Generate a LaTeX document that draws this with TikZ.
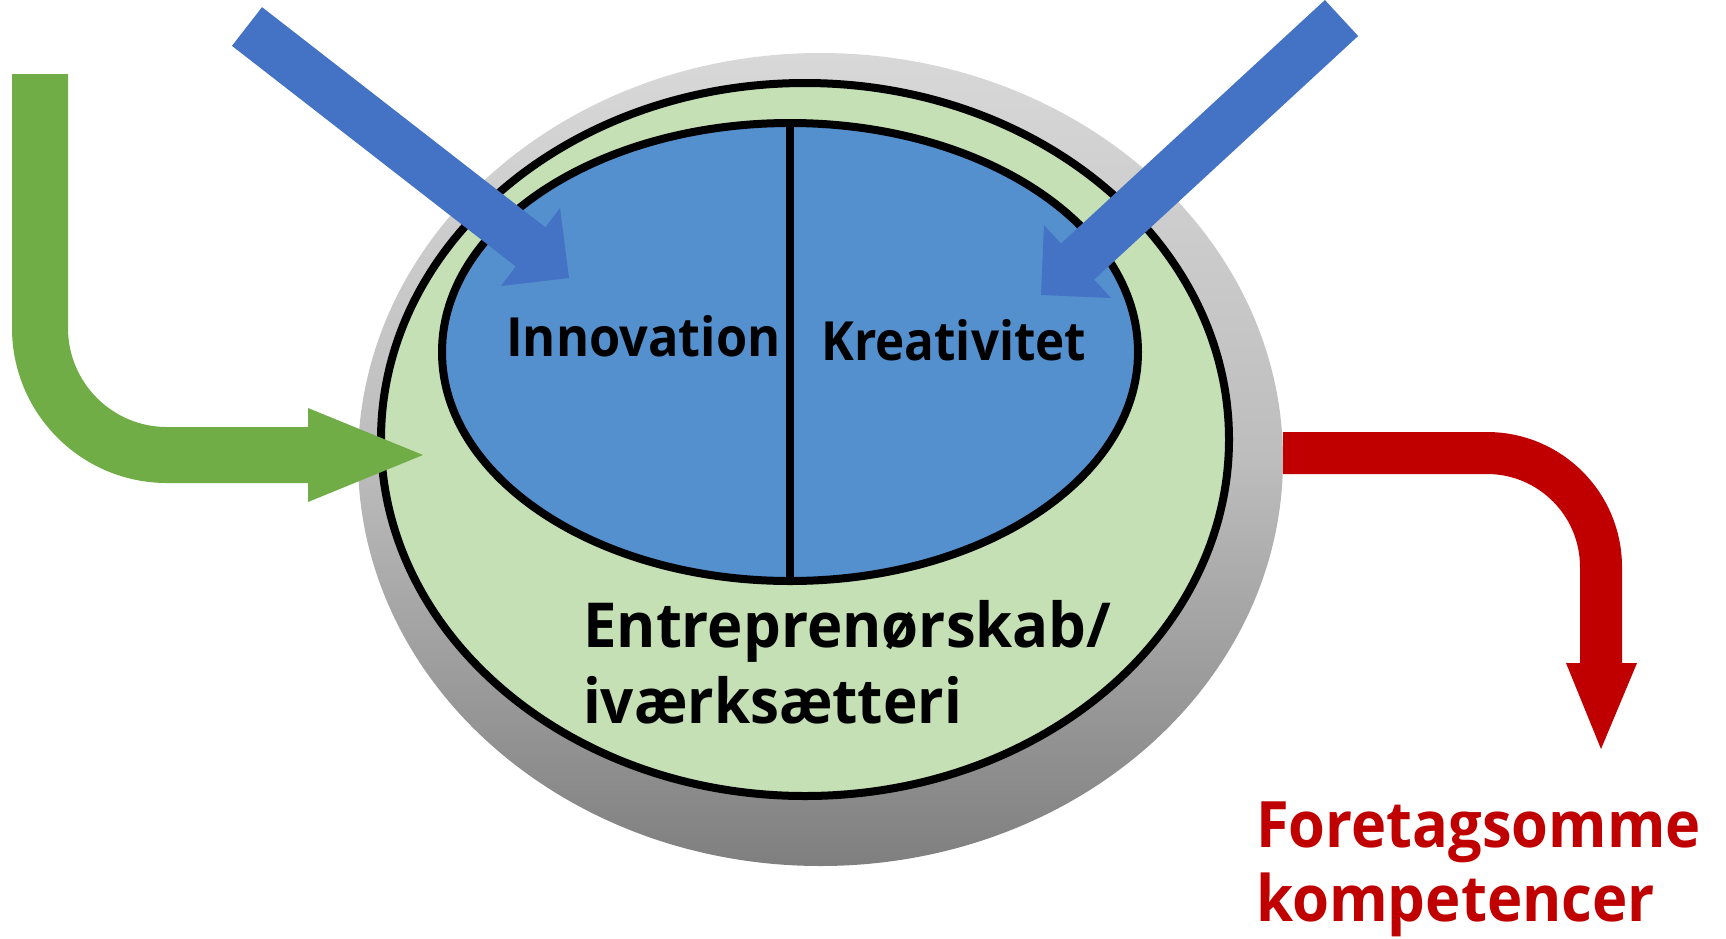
\documentclass[tikz,border=0pt]{standalone}
\usepackage{fontspec}
\setmainfont{Open Sans}
\usetikzlibrary{shapes.geometric}
\definecolor{arrblue}{HTML}{4472C4}
\definecolor{inblue}{HTML}{5490CE}
\definecolor{ltgreen}{HTML}{C5E0B4}
\definecolor{arrgreen}{HTML}{70AD47}
\definecolor{arrred}{HTML}{C00000}
\definecolor{grtop}{HTML}{D8D8D8}
\definecolor{grmid}{HTML}{BDBDBD}
\definecolor{grbot}{HTML}{7F7F7F}
\tikzset{
  ring/.style={ellipse, inner sep=0pt, outer sep=0pt},
  rim/.style={draw=black, line width=8pt},
  lbl/.style={anchor=base west, inner sep=0pt, font=\bfseries},
  shaft/.style={line width=#1, line cap=butt},
}
\begin{document}
\begin{tikzpicture}[x=1pt,y=-1pt]
\useasboundingbox (0,0) rectangle (1726,938);
% ellipses
\node[ring, top color=grtop, bottom color=grbot, middle color=grmid,
      minimum width=925pt, minimum height=813pt] (outer) at (820.5,459.5) {};
\node[ring, rim, fill=ltgreen, minimum width=848pt, minimum height=713pt] (mid) at (805,439.5) {};
\node[ring, rim, fill=inblue, minimum width=696pt, minimum height=458pt] (inner) at (790,352) {};
\draw[line width=7.5pt] (inner.north) -- (inner.south);
% labels
\node[lbl, font=\bfseries\fontsize{54}{60}\selectfont] (inn) at (506,356) {\scalebox{0.935}[1]{Innovation}};
\node[lbl, font=\bfseries\fontsize{54}{60}\selectfont] (kre) at (821,360) {\scalebox{0.915}[1]{Kreativitet}};
\node[lbl, font=\bfseries\fontsize{62}{70}\selectfont] (ent) at (583,647) {\scalebox{0.965}[1]{Entreprenørskab/}};
\node[lbl, font=\bfseries\fontsize{62}{70}\selectfont] (ivk) at (583,723) {\scalebox{0.94}[1]{iværksætteri}};
\node[lbl, text=arrred, font=\bfseries\fontsize{64}{70}\selectfont] (fore) at (1256,847) {\scalebox{0.93}[1]{Foretagsomme}};
\node[lbl, text=arrred, font=\bfseries\fontsize{64}{70}\selectfont] (komp) at (1256,921) {\scalebox{0.935}[1]{kompetencer}};
% green arrow
\coordinate (gs) at (40,74);
\coordinate (gc) at (40,455);
\coordinate (gb) at (310,455);
\draw[shaft=56pt, arrgreen, rounded corners=127pt] (gs) -- (gc) -- (gb);
\fill[arrgreen] (308,408) -- (423,455) -- (308,502) -- cycle;
% red arrow
\coordinate (rs) at (1283,453);
\coordinate (rc) at (1601,453);
\coordinate (rb) at (1601,665);
\draw[shaft=42pt, arrred, rounded corners=114pt] (rs) -- (rc) -- (rb);
\fill[arrred] (1566,663) -- (1601,749) -- (1637,663) -- cycle;
% blue arrows
\coordinate (b1s) at (247,26.5);
\coordinate (b1e) at (532,248);
\draw[shaft=49pt, arrblue] (b1s) -- (b1e);
\fill[arrblue] (560,208) -- (569,278) -- (501,286) -- cycle;
\coordinate (b2s) at (1341.5,18);
\coordinate (b2e) at (1076,263);
\draw[shaft=49pt, arrblue] (b2s) -- (b2e);
\fill[arrblue] (1044,225) -- (1041,295) -- (1111,298) -- cycle;
\end{tikzpicture}
\end{document}
